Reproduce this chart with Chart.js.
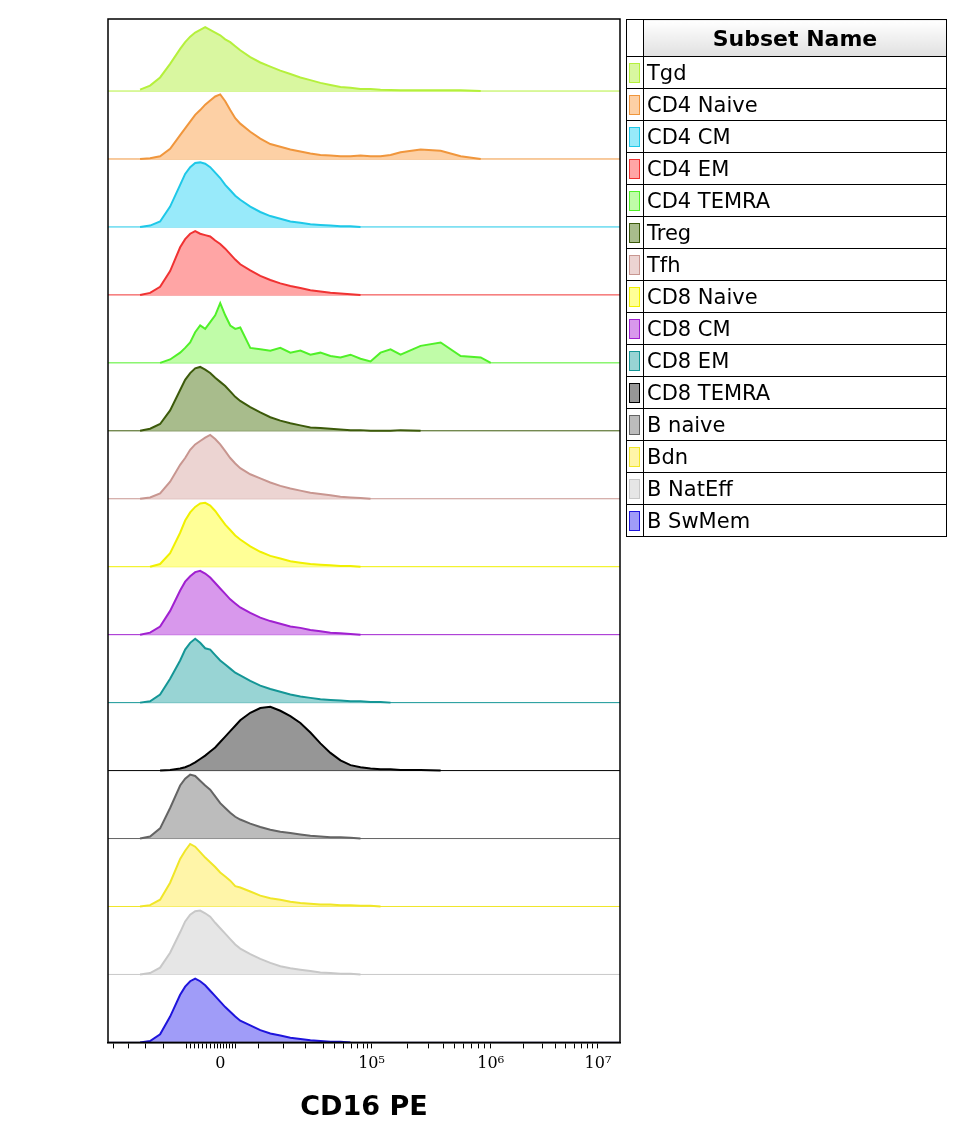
<!DOCTYPE html>
<html><head><meta charset="utf-8">
<script src="https://cdn.jsdelivr.net/npm/chart.js@4"></script>
<style>
body{margin:0;background:#fff;width:967px;height:1143px;position:relative;font-family:"DejaVu Sans",sans-serif}
#wrap{position:absolute;left:0;top:0;width:630px;height:1143px}
table{position:absolute;left:626px;top:19px;border-collapse:collapse;width:321px}
td{border:1px solid #000;height:31px;padding:0 0 0 3px;font-size:21px;font-family:"DejaVu Sans";}
td.sw{width:12px;padding:0 2px}
.sw span{display:block;width:9px;height:18px;border:1.5px solid}
th{border:1px solid #000;height:34px;font-size:22px;background:linear-gradient(#fff,#e0e0e0);font-family:"DejaVu Sans"}
</style></head><body>
<div id="wrap"><canvas id="c"></canvas></div>
<table id="leg"><tr><th style="width:12px;background:#fff"></th><th>Subset Name</th></tr></table>
<script>
const subsets=["Tgd","CD4 Naive","CD4 CM","CD4 EM","CD4 TEMRA","Treg","Tfh","CD8 Naive","CD8 CM","CD8 EM","CD8 TEMRA","B naive","Bdn","B NatEff","B SwMem"];
const lineColors=["#b5f03c","#f0963c","#1ec8e8","#f03232","#50f028","#3c5a0a","#c89690","#f0f000","#a020d0","#149696","#000000","#646464","#f0e628","#c8c8c8","#1e14dc"];
const fillColors=["#d9f7a0","#fdd0a5","#98eafa","#ffa5a5","#c0fca8","#a8bc8c","#ecd4d2","#ffff96","#d898ec","#98d4d4","#969696","#bcbcbc","#fff5a8","#e6e6e6","#a09cf8"];
// channel positions (0..511 across the plot)
const channels=[32,42,52,62,72,77,82,87,92,97,102,107,112,117,122,127,132,142,152,162,172,182,192,202,212,222,232,242,252,262,272,282,292,312,332,352,372,382];
const heights={
"Tgd":      [0.02,0.08,0.2,0.4,0.62,0.72,0.8,0.86,0.9,0.94,0.9,0.86,0.82,0.76,0.72,0.66,0.6,0.5,0.42,0.36,0.3,0.25,0.2,0.16,0.12,0.09,0.06,0.05,0.03,0.03,0.02,0.015,0.01,0.01,0.01,0.01,0,0],
"CD4 Naive":[0,0.01,0.04,0.15,0.35,0.45,0.55,0.65,0.72,0.8,0.86,0.92,0.95,0.85,0.72,0.6,0.52,0.4,0.3,0.22,0.18,0.14,0.11,0.08,0.06,0.05,0.04,0.04,0.05,0.04,0.04,0.06,0.1,0.14,0.12,0.04,0,0],
"CD4 CM":   [0,0.02,0.08,0.3,0.62,0.78,0.88,0.94,0.95,0.93,0.88,0.8,0.72,0.62,0.54,0.46,0.4,0.3,0.22,0.16,0.12,0.08,0.06,0.04,0.03,0.02,0.01,0.01,0,0,0,0,0,0,0,0,0,0],
"CD4 EM":   [0,0.03,0.12,0.35,0.7,0.82,0.9,0.94,0.9,0.88,0.86,0.8,0.75,0.68,0.6,0.52,0.45,0.36,0.28,0.22,0.17,0.13,0.1,0.07,0.05,0.03,0.02,0.01,0,0,0,0,0,0,0,0,0,0],
"CD4 TEMRA":[0,0,0,0.05,0.15,0.22,0.3,0.45,0.55,0.5,0.6,0.7,0.88,0.7,0.55,0.5,0.52,0.22,0.2,0.18,0.22,0.15,0.18,0.12,0.15,0.1,0.08,0.12,0.06,0.02,0.15,0.2,0.12,0.25,0.3,0.1,0.08,0],
"Treg":     [0,0.03,0.1,0.3,0.6,0.75,0.85,0.92,0.94,0.9,0.85,0.78,0.72,0.66,0.58,0.5,0.44,0.35,0.27,0.2,0.15,0.11,0.08,0.05,0.04,0.03,0.02,0.01,0.01,0,0,0,0.01,0,0,0,0,0],
"Tfh":      [0,0.02,0.08,0.25,0.5,0.6,0.72,0.8,0.85,0.9,0.94,0.88,0.8,0.7,0.6,0.52,0.45,0.36,0.3,0.24,0.19,0.15,0.12,0.09,0.07,0.05,0.03,0.02,0.01,0,0,0,0,0,0,0,0,0],
"CD8 Naive":[0,0,0.04,0.2,0.5,0.68,0.8,0.88,0.93,0.94,0.9,0.82,0.72,0.62,0.54,0.46,0.4,0.3,0.22,0.16,0.12,0.08,0.06,0.04,0.03,0.02,0.01,0.01,0,0,0,0,0,0,0,0,0,0],
"CD8 CM":   [0,0.03,0.12,0.35,0.65,0.78,0.86,0.92,0.94,0.9,0.84,0.76,0.68,0.6,0.52,0.46,0.4,0.32,0.25,0.2,0.16,0.12,0.1,0.07,0.05,0.03,0.02,0.01,0,0,0,0,0,0,0,0,0,0],
"CD8 EM":   [0,0.02,0.12,0.35,0.62,0.78,0.88,0.94,0.88,0.8,0.78,0.7,0.62,0.56,0.5,0.44,0.4,0.32,0.25,0.2,0.16,0.12,0.09,0.07,0.05,0.04,0.03,0.02,0.02,0.01,0.01,0,0,0,0,0,0,0],
"CD8 TEMRA":[0,0,0,0.01,0.03,0.05,0.08,0.12,0.17,0.22,0.28,0.34,0.42,0.5,0.58,0.66,0.74,0.85,0.92,0.94,0.88,0.8,0.7,0.56,0.4,0.26,0.15,0.08,0.05,0.03,0.02,0.02,0.01,0.01,0,0,0,0],
"B naive":  [0,0.03,0.15,0.45,0.78,0.88,0.94,0.92,0.85,0.78,0.72,0.62,0.52,0.45,0.38,0.32,0.28,0.22,0.17,0.13,0.1,0.08,0.06,0.04,0.03,0.02,0.02,0.01,0,0,0,0,0,0,0,0,0,0],
"Bdn":      [0,0.02,0.1,0.35,0.7,0.82,0.92,0.88,0.8,0.72,0.65,0.58,0.5,0.44,0.38,0.3,0.28,0.22,0.16,0.12,0.1,0.07,0.05,0.04,0.03,0.03,0.02,0.02,0.01,0.01,0,0,0,0,0,0,0,0],
"B NatEff": [0,0.02,0.1,0.32,0.62,0.78,0.88,0.93,0.94,0.9,0.85,0.76,0.68,0.6,0.52,0.44,0.38,0.3,0.23,0.17,0.12,0.09,0.07,0.05,0.03,0.02,0.01,0.01,0,0,0,0,0,0,0,0,0,0],
"B SwMem":  [0,0.02,0.12,0.38,0.7,0.82,0.9,0.94,0.9,0.84,0.76,0.68,0.6,0.52,0.45,0.38,0.32,0.25,0.18,0.13,0.1,0.07,0.05,0.03,0.02,0.01,0.01,0,0,0,0,0,0,0,0,0,0,0]
};
const majorTicks=[{v:112,label:"0"},{v:263,label:"10⁵"},{v:382,label:"10⁶"},{v:489,label:"10⁷"}];
const minorTicks=[5,20,37,55,78,82,86,90,94,98,102,106,109,115,118,121,124,127,150,175,197,215,226,235,243,249,255,259,299,320,335,346,355,363,370,376,415,434,447,457,466,473,479,484];
const ROW=1.0, NROWS=subsets.length;

const tbl=document.getElementById('leg');
subsets.forEach((s,i)=>{const tr=document.createElement('tr');
 tr.innerHTML=`<td class="sw"><span style="border-color:${lineColors[i]};background:${fillColors[i]}"></span></td><td>${s}</td>`;tbl.appendChild(tr);});

const datasets=[];
subsets.forEach((s,i)=>{
  const base=(NROWS-1-i)*ROW;
  const h=heights[s];
  const firstNZ=h.findIndex(v=>v>0), lastNZ=h.length-1-[...h].reverse().findIndex(v=>v>0);
  const pts=channels.map((c,k)=>({x:c,y:base+h[k]*ROW})).slice(Math.max(0,firstNZ-1),Math.min(h.length,lastNZ+2));
  datasets.push({data:pts,borderColor:lineColors[i],backgroundColor:fillColors[i],fill:{value:base},borderWidth:2,pointRadius:0,tension:0});
  datasets.push({data:[{x:0,y:base},{x:511,y:base}],borderColor:lineColors[i],borderWidth:1,pointRadius:0,fill:false});
});
const frame={id:'frame',afterDraw(c){const a=c.chartArea,x=c.ctx;x.save();x.strokeStyle='#000';x.lineWidth=1.5;x.strokeRect(a.left,a.top,a.right-a.left,a.bottom-a.top);x.restore();}};
const allTicks=[...majorTicks.map(t=>t.v),...minorTicks].sort((a,b)=>a-b);
new Chart(document.getElementById('c'),{type:'line',data:{datasets},plugins:[frame],
options:{responsive:true,maintainAspectRatio:false,animation:false,events:[],
 layout:{padding:{left:108,right:10,top:19,bottom:15}},
 plugins:{legend:{display:false},tooltip:{enabled:false}},
 scales:{
  y:{display:false,min:0,max:NROWS*ROW+0.06},
  x:{type:'linear',min:0,max:511,
   afterBuildTicks(ax){ax.ticks=allTicks.map(v=>({value:v}));},
   grid:{drawOnChartArea:false,tickLength:6,tickColor:'#000'},
   border:{color:'#000',width:1.5},
   ticks:{autoSkip:false,maxRotation:0,color:'#000',font:{family:'DejaVu Serif',size:16},padding:6,
     callback(v){const m=majorTicks.find(t=>t.v===v);return m?m.label:'';}},
   title:{display:true,text:'CD16 PE',color:'#000',font:{family:'DejaVu Sans',size:27,weight:'bold'},padding:{top:12}}
  }}}});
</script></body></html>
